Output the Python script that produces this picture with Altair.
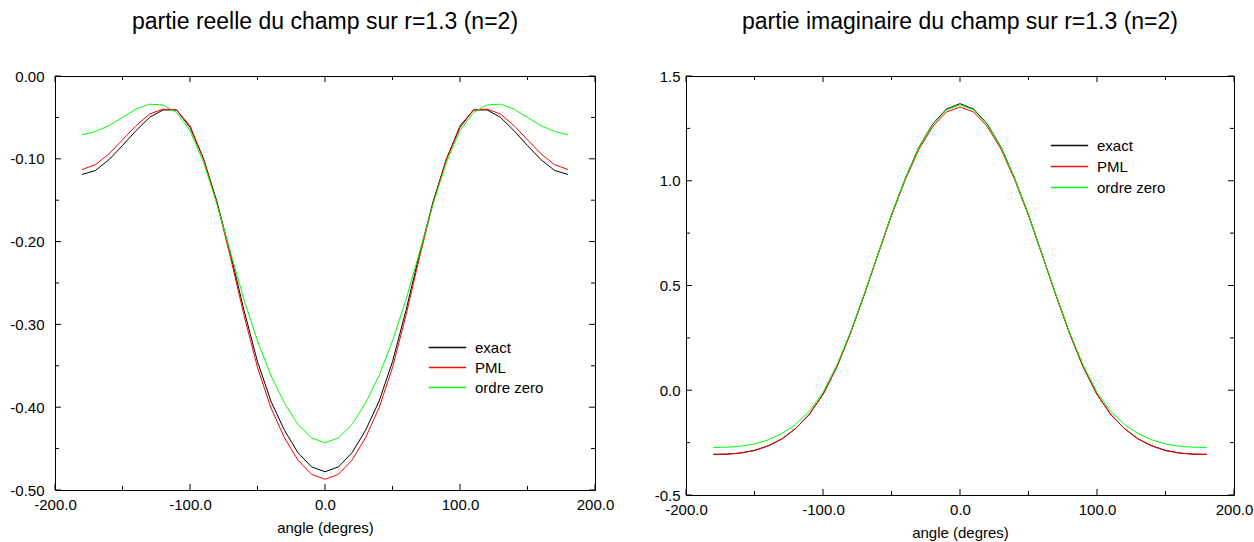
import altair as alt
import pandas as pd

# ---------------- data ----------------
angles = [-180, -170, -160, -150, -140, -130, -120, -110, -100, -90, -80, -70, -60, -50, -40, -30, -20, -10,
          0, 10, 20, 30, 40, 50, 60, 70, 80, 90, 100, 110, 120, 130, 140, 150, 160, 170, 180]

# partie reelle
re_exact = [-0.119, -0.114, -0.101, -0.084, -0.066, -0.050, -0.041, -0.041, -0.062, -0.100, -0.152, -0.215,
            -0.283, -0.345, -0.393, -0.428, -0.455, -0.472, -0.478, -0.472, -0.455, -0.428, -0.393, -0.345,
            -0.283, -0.215, -0.152, -0.100, -0.062, -0.041, -0.041, -0.050, -0.066, -0.084, -0.101, -0.114, -0.119]
re_pml = [-0.113, -0.107, -0.094, -0.077, -0.060, -0.046, -0.040, -0.041, -0.060, -0.100, -0.154, -0.219,
          -0.289, -0.352, -0.401, -0.437, -0.464, -0.481, -0.487, -0.481, -0.464, -0.437, -0.401, -0.352,
          -0.289, -0.219, -0.154, -0.100, -0.060, -0.041, -0.040, -0.046, -0.060, -0.077, -0.094, -0.107, -0.113]
re_zero = [-0.071, -0.067, -0.060, -0.050, -0.040, -0.034, -0.035, -0.044, -0.066, -0.104, -0.155, -0.213,
           -0.270, -0.320, -0.362, -0.395, -0.421, -0.437, -0.443, -0.437, -0.421, -0.395, -0.362, -0.320,
           -0.270, -0.213, -0.155, -0.104, -0.066, -0.044, -0.035, -0.034, -0.040, -0.050, -0.060, -0.067, -0.071]

# partie imaginaire
im_exact = [-0.306, -0.305, -0.299, -0.287, -0.265, -0.232, -0.183, -0.115, -0.020, 0.110, 0.272, 0.455,
            0.647, 0.838, 1.010, 1.160, 1.270, 1.342, 1.368, 1.342, 1.270, 1.160, 1.010, 0.838,
            0.647, 0.455, 0.272, 0.110, -0.020, -0.115, -0.183, -0.232, -0.265, -0.287, -0.299, -0.305, -0.306]
im_pml = [-0.306, -0.305, -0.300, -0.288, -0.266, -0.233, -0.183, -0.115, -0.020, 0.110, 0.271, 0.453,
          0.644, 0.833, 1.003, 1.150, 1.258, 1.328, 1.352, 1.328, 1.258, 1.150, 1.003, 0.833,
          0.644, 0.453, 0.271, 0.110, -0.020, -0.115, -0.183, -0.233, -0.266, -0.288, -0.300, -0.305, -0.306]
im_zero = [-0.273, -0.272, -0.267, -0.256, -0.237, -0.207, -0.163, -0.100, -0.010, 0.118, 0.277, 0.458,
           0.648, 0.838, 1.009, 1.158, 1.267, 1.338, 1.363, 1.338, 1.267, 1.158, 1.009, 0.838,
           0.648, 0.458, 0.277, 0.118, -0.010, -0.100, -0.163, -0.207, -0.237, -0.256, -0.267, -0.272, -0.273]

series_names = ["exact", "PML", "ordre zero"]
series_colors = ["#000000", "#ff0000", "#00ff00"]

x_major = [-200, -100, 0, 100, 200]
x_minor = [-150, -50, 50, 150]
re_major = [0.0, -0.1, -0.2, -0.3, -0.4, -0.5]
re_minor = [-0.05, -0.15, -0.25, -0.35, -0.45]
im_major = [1.5, 1.0, 0.5, 0.0, -0.5]
im_minor = [1.25, 0.75, 0.25, -0.25]

FONT = "Liberation Sans"
MINUS = "\u2212"


def long_df(values_by_series):
    rows = []
    for name, vals in zip(series_names, values_by_series):
        for i, (a, v) in enumerate(zip(angles, vals)):
            rows.append({"angle": a, "value": v, "serie": name, "order": i})
    return pd.DataFrame(rows)


def panel(title, values_by_series, ydom, ymaj, ymin, yfmt, W, H, ylabpad, legx, legy, rowpad):
    xs = alt.Scale(domain=[-200, 200], nice=False, zero=False)
    ys = alt.Scale(domain=ydom, nice=False, zero=False)
    xlab = f"replace(format(datum.value, '.1f'), '{MINUS}', '-')"
    ylab = f"replace(format(datum.value, '{yfmt}'), '{MINUS}', '-')"

    lines = alt.Chart(long_df(values_by_series)).mark_line(strokeWidth=1).encode(
        x=alt.X("angle:Q", scale=xs, title="angle (degres)",
                axis=alt.Axis(values=x_major, labelExpr=xlab, labelPadding=7, titlePadding=8,
                              labelFlush=False, labelOverlap=False, grid=False, ticks=False,
                              domain=False)),
        y=alt.Y("value:Q", scale=ys, title=None,
                axis=alt.Axis(values=ymaj, labelExpr=ylab, labelPadding=ylabpad,
                              labelFlush=False, labelOverlap=False, grid=False, ticks=False,
                              domain=False)),
        color=alt.Color("serie:N", sort=series_names,
                        scale=alt.Scale(domain=series_names, range=series_colors),
                        legend=alt.Legend(orient="none", legendX=legx, legendY=legy, title=None,
                                          symbolType="M-3.7,-0.05H3.7V0.05H-3.7Z", symbolSize=100,
                                          symbolStrokeWidth=1, labelOffset=20, rowPadding=rowpad,
                                          padding=0, labelFontSize=15, labelFont=FONT,
                                          labelColor="black")),
        order="order:Q",
    )

    def xticks(vals, length):
        d = pd.DataFrame({"t": vals})
        bot = alt.Chart(d).mark_rule(color="black", strokeWidth=1).encode(
            x=alt.X("t:Q", scale=xs), y=alt.value(H), y2=alt.value(H - length))
        top = alt.Chart(d).mark_rule(color="black", strokeWidth=1).encode(
            x=alt.X("t:Q", scale=xs), y=alt.value(0), y2=alt.value(length))
        return [bot, top]

    def yticks(vals, length):
        d = pd.DataFrame({"t": vals})
        lft = alt.Chart(d).mark_rule(color="black", strokeWidth=1).encode(
            y=alt.Y("t:Q", scale=ys), x=alt.value(0), x2=alt.value(length))
        rgt = alt.Chart(d).mark_rule(color="black", strokeWidth=1).encode(
            y=alt.Y("t:Q", scale=ys), x=alt.value(W), x2=alt.value(W - length))
        return [lft, rgt]

    layers = [lines] + xticks(x_major, 6) + xticks(x_minor, 4) + yticks(ymaj, 6) + yticks(ymin, 4)
    return alt.layer(*layers).properties(
        width=W, height=H,
        title=alt.TitleParams(title, fontSize=23, font=FONT, fontWeight="normal", color="black",
                              anchor="middle", frame="group", baseline="bottom", offset=12),
    )


left = panel("partie reelle du champ sur r=1.3 (n=2)", [re_exact, re_pml, re_zero],
             [-0.5, 0.0], re_major, re_minor, ".2f", 540, 414, 11, 385, 264, 4)
right = panel("partie imaginaire du champ sur r=1.3 (n=2)", [im_exact, im_pml, im_zero],
              [-0.5, 1.5], im_major, im_minor, ".1f", 548, 419, 6, 376, 62, 5)

chart = alt.hconcat(left, right, spacing=38).resolve_scale(
    color="independent", x="independent", y="independent"
).resolve_legend(color="independent").properties(
    padding={"left": 9, "top": 10, "right": 0, "bottom": 0},
    background="white",
).configure_view(stroke="black", strokeWidth=1).configure_axis(
    labelFont=FONT, labelFontSize=15, labelColor="black", titleFont=FONT, titleFontSize=15,
    titleFontWeight="normal", titleColor="black", ticks=False, tickSize=0, domain=False, grid=False
)

chart.save("out.html", embed_options={"renderer": "svg", "actions": False})
